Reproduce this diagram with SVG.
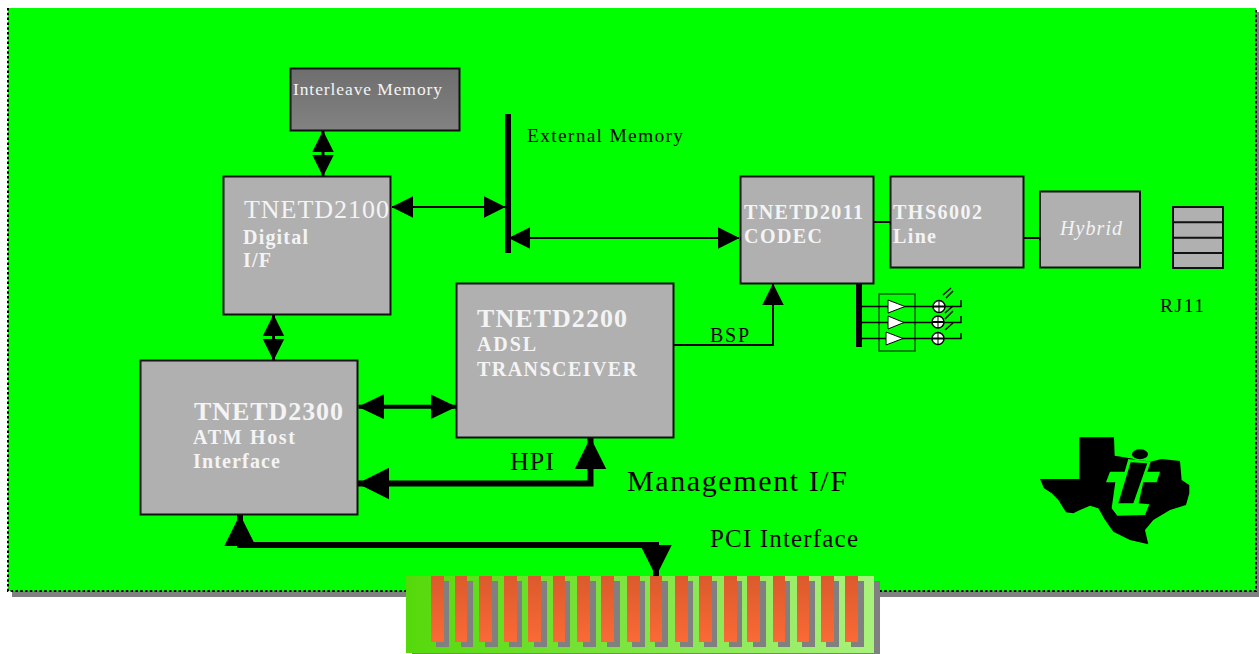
<svg xmlns="http://www.w3.org/2000/svg" width="1259" height="654" viewBox="0 0 1259 654">
<style>
text{font-family:"Liberation Serif","Times New Roman",serif}
.box{fill:#b0b0b0;stroke:#111;stroke-width:2}
.w{fill:#f4f4f4}
.b{font-weight:bold;fill:#f4f4f4}
.k{fill:#000}
.c{fill:none;stroke:#000;stroke-linejoin:miter}
.pin{fill:url(#pinG)}
.sh{fill:#808080}
.thin{fill:none;stroke:#000;stroke-width:1.5}
.tri{fill:#fff;stroke:#000;stroke-width:1}
.led{fill:#fff;stroke:#000;stroke-width:1.5}
</style>
<defs>
<linearGradient id="conG" x1="0" x2="1" y1="0" y2="0"><stop offset="0" stop-color="#55d90b"/><stop offset="1" stop-color="#a9f27c"/></linearGradient>
<linearGradient id="pinG" x1="0" x2="0" y1="0" y2="1"><stop offset="0" stop-color="#db5a2c"/><stop offset="1" stop-color="#fa6a36"/></linearGradient>
<linearGradient id="memG" x1="0" x2="0" y1="0" y2="1"><stop offset="0" stop-color="#6e6e6e"/><stop offset="1" stop-color="#828282"/></linearGradient>
<marker id="s" markerUnits="userSpaceOnUse" markerWidth="22" markerHeight="22" viewBox="0 0 21 21" refX="20.5" refY="10.500" orient="auto-start-reverse"><path d="M0 0L21 10.500L0 21Z"/></marker>
<marker id="m" markerUnits="userSpaceOnUse" markerWidth="26" markerHeight="25" viewBox="0 0 25 24" refX="24.500" refY="12" orient="auto-start-reverse"><path d="M0 0L25 12L0 24Z"/></marker>
<marker id="l" markerUnits="userSpaceOnUse" markerWidth="32" markerHeight="32" viewBox="0 0 30 30" refX="29.500" refY="15" orient="auto-start-reverse"><path d="M0 0L30 15L0 30Z"/></marker>
</defs>

<g id="board">
<rect x="0" y="0" width="1259" height="654" fill="#fff"/>
<rect x="12" y="12" width="1247" height="585" class="sh"/>
<rect x="8" y="8" width="1248" height="583" fill="#00ff00"/>
<path d="M8 8V591H1256V8" fill="none" stroke="#000" stroke-width="2" stroke-dasharray="2.5 2.3"/>
</g>

<g id="pci-connector">
<rect x="412" y="581" width="468" height="73" class="sh"/>
<rect x="406" y="576" width="468" height="77" fill="url(#conG)"/>
<g class="sh">
<rect x="436" y="581" width="13" height="66"/><rect x="461" y="581" width="12" height="66"/><rect x="485" y="581" width="13" height="66"/><rect x="509" y="581" width="13" height="66"/><rect x="534" y="581" width="13" height="66"/><rect x="558" y="581" width="12" height="66"/><rect x="583" y="581" width="13" height="66"/><rect x="607" y="581" width="13" height="66"/><rect x="632" y="581" width="13" height="66"/><rect x="655" y="581" width="13" height="66"/><rect x="680" y="581" width="13" height="66"/><rect x="704" y="581" width="13" height="66"/><rect x="729" y="581" width="13" height="66"/><rect x="753" y="581" width="13" height="66"/><rect x="778" y="581" width="12" height="66"/><rect x="802" y="581" width="13" height="66"/><rect x="826" y="581" width="13" height="66"/><rect x="851" y="581" width="13" height="66"/>
</g>
<g class="pin">
<rect x="431" y="576" width="13" height="66"/><rect x="455" y="576" width="12" height="66"/><rect x="479" y="576" width="13" height="66"/><rect x="504" y="576" width="13" height="66"/><rect x="528" y="576" width="13" height="66"/><rect x="553" y="576" width="12" height="66"/><rect x="577" y="576" width="13" height="66"/><rect x="601" y="576" width="13" height="66"/><rect x="627" y="576" width="13" height="66"/><rect x="650" y="576" width="12" height="66"/><rect x="675" y="576" width="13" height="66"/><rect x="699" y="576" width="13" height="66"/><rect x="724" y="576" width="13" height="66"/><rect x="747" y="576" width="13" height="66"/><rect x="773" y="576" width="12" height="66"/><rect x="797" y="576" width="12" height="66"/><rect x="821" y="576" width="13" height="66"/><rect x="845" y="576" width="13" height="66"/>
</g>
</g>

<g id="connectors">
<path class="c" stroke-width="3" d="M323 131V176" marker-start="url(#s)" marker-end="url(#s)"/>
<path class="c" stroke-width="2" d="M392 207H505" marker-start="url(#s)" marker-end="url(#s)"/>
<path class="c" stroke-width="2" d="M509 238H739" marker-start="url(#s)" marker-end="url(#s)"/>
<path class="c" stroke-width="3" d="M273.500 315V360" marker-start="url(#s)" marker-end="url(#s)"/>
<path class="c" stroke-width="4" d="M358.500 406.700H456" marker-start="url(#m)" marker-end="url(#m)"/>
<path class="c" stroke-width="6" d="M358 483.500H590.500V438" marker-start="url(#l)" marker-end="url(#l)"/>
<path class="c" stroke-width="6" d="M240 515V545H656V576" marker-start="url(#l)" marker-end="url(#l)"/>
<path class="c" stroke-width="2" d="M674 345H773V284" marker-end="url(#s)"/>
<path class="c" stroke-width="2" d="M873 222H890M1023 238H1040"/>
<path class="c" stroke-width="6" d="M508 114V253M859 284V347"/>
</g>

<g id="interleave-memory"><rect x="290.500" y="68.500" width="169" height="62" fill="url(#memG)" stroke="#111" stroke-width="2"/><text x="293" y="95" font-size="17.500" class="w" textLength="149">Interleave Memory</text></g>
<g id="external-memory"><text x="527" y="142" font-size="19.500" class="k" textLength="156">External Memory</text></g>
<g id="tnetd2100"><rect x="223.500" y="176.500" width="167" height="138" class="box"/><text x="244" y="218" font-size="26" class="w" textLength="145">TNETD2100</text><text x="243" y="244" font-size="20" class="b" textLength="65">Digital</text><text x="243" y="267" font-size="20" class="b" textLength="28">I/F</text></g>
<g id="tnetd2300"><rect x="140.500" y="360.500" width="217" height="154" class="box"/><text x="194" y="420" font-size="26" class="b" textLength="149">TNETD2300</text><text x="193" y="444" font-size="20" class="b" textLength="102">ATM Host</text><text x="193" y="468" font-size="20" class="b" textLength="87">Interface</text></g>
<g id="tnetd2200"><rect x="456.500" y="283.500" width="217" height="154" class="box"/><text x="477" y="327" font-size="26" class="b" textLength="150">TNETD2200</text><text x="477" y="351" font-size="20" class="b" textLength="59">ADSL</text><text x="477" y="376" font-size="20" class="b" textLength="160">TRANSCEIVER</text></g>
<g id="tnetd2011"><rect x="740.500" y="176.500" width="133" height="107" class="box"/><text x="744" y="219" font-size="20" class="b" textLength="119">TNETD2011</text><text x="744" y="243" font-size="20" class="b" textLength="78">CODEC</text></g>
<g id="ths6002"><rect x="890.500" y="176.500" width="133" height="91" class="box"/><text x="893" y="219" font-size="20" class="b" textLength="89">THS6002</text><text x="893" y="243" font-size="20" class="b" textLength="43">Line</text></g>
<g id="hybrid"><rect x="1040" y="191.500" width="100" height="76" class="box"/><text x="1060" y="235" font-size="20" font-style="italic" class="w" textLength="62">Hybrid</text></g>
<g id="rj11"><rect x="1173" y="207" width="50" height="61" class="box"/><path d="M1173 222.300H1223M1173 237.700H1223M1173 253H1223" fill="none" stroke="#111" stroke-width="2"/><text x="1160" y="312" font-size="19.500" class="k" textLength="44">RJ11</text></g>

<g id="leds">
<rect x="879" y="294" width="36" height="57" fill="none" stroke="#006000" stroke-width="1.500"/>
<path class="thin" d="M860 306.500H961V300M860 322.500H961V316M860 338.500H961V333"/>
<path class="tri" d="M888 300L905 306.500L888 313ZM888 316L904 322.500L888 329ZM886 332L903 338.500L886 345Z"/>
<g class="led"><circle cx="939" cy="306.500" r="6"/><circle cx="938" cy="322" r="6"/><circle cx="938" cy="338.500" r="6"/></g>
<path d="M939 300V313M938 316V328M938 332V345" fill="none" stroke="#000"/>
<path d="M933 306.500L945 306.500M932 322L944 322M932 338.500L944 338.500" fill="none" stroke="#000" stroke-width="2"/>
<path class="thin" stroke-width="1" d="M943 295L951 288M946 298L953 291M945 313L953 306M945 319L953 311M945 330L953 323"/>
</g>

<g id="ti-logo" transform="translate(1030 425) scale(.3333)">
<path fill="#000" d="M148 37H252L254 92L282 97L300 100L360 110L395 102L450 108L455 165L478 180V205L468 240L420 255L370 285L345 315L355 358L300 345L250 320L225 285L205 250L180 242L150 255L130 265L108 262L85 225L65 205L42 190L30 162H148Z"/>
<path fill="#00ff00" d="M240 140H284L295 102L362 110L352 140H390L380 172H340L326 235L358 238L345 270L262 272L245 250L256 172H228Z"/>
<path fill="#000" d="M302 112L352 115L310 235L265 235Z"/>
<ellipse cx="330" cy="88" rx="28" ry="19" fill="#00ff00"/>
<ellipse cx="330" cy="88" rx="24" ry="15" fill="#000"/>
</g>

<g id="labels">
<text x="710" y="342" font-size="20" class="k" textLength="39">BSP</text>
<text x="510" y="470" font-size="26" class="k" textLength="44">HPI</text>
<text x="627" y="491" font-size="30" class="k" textLength="220">Management I/F</text>
<text x="710" y="547" font-size="25" class="k" textLength="148">PCI Interface</text>
</g>
</svg>
